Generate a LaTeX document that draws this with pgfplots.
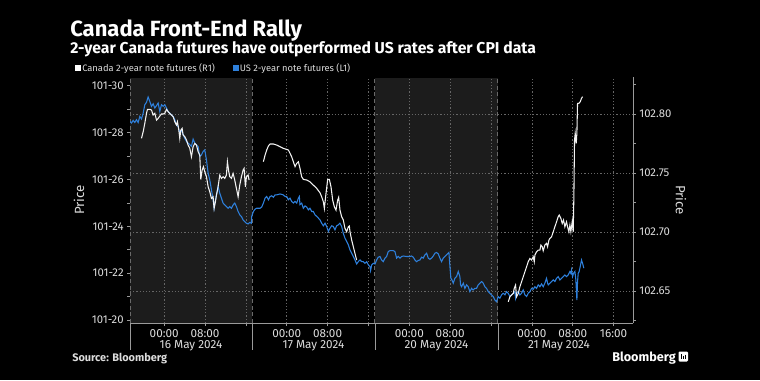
\documentclass[border=0pt]{standalone}
\usepackage{fontspec}
\setmainfont{Fira Sans}
\usepackage{pgfplots}
\pgfplotsset{compat=1.18}
\definecolor{usblue}{HTML}{2E80DC}
\definecolor{cawhite}{HTML}{F2F2F2}
\definecolor{shadec}{HTML}{1C1C1C}
\definecolor{gridc}{HTML}{666666}
\definecolor{tickc}{HTML}{DCDCDC}
\definecolor{axisc}{HTML}{9A9A9A}
\definecolor{sepc}{HTML}{6A6A6A}
\begin{document}
\begin{tikzpicture}
\useasboundingbox (0,0) rectangle (570pt,285pt);
\fill[black] (0,0) rectangle (570pt,285pt);
\pgfplotsset{base/.style={at={(97.5pt,42.75pt)}, anchor=south west, scale only axis,
  width=377.25pt, height=183.75pt, xmin=-6.7, xmax=91.8}}
% shading and session separators
\begin{axis}[base, hide axis, ymin=0, ymax=1]
\fill[shadec] (axis cs:-6.7,0) rectangle (axis cs:17.2,1);
\fill[shadec] (axis cs:41.25,0) rectangle (axis cs:65.3,1);
\draw[sepc, line width=0.6pt, dash pattern=on 3pt off 2pt] (axis cs:-6.6,0) -- (axis cs:-6.6,1);
\draw[sepc, line width=0.6pt, dash pattern=on 3pt off 2pt] (axis cs:17.2,0) -- (axis cs:17.2,1);
\draw[sepc, line width=0.6pt, dash pattern=on 3pt off 2pt] (axis cs:41.25,0) -- (axis cs:41.25,1);
\draw[sepc, line width=0.6pt, dash pattern=on 3pt off 2pt] (axis cs:65.3,0) -- (axis cs:65.3,1);
\end{axis}
% right scale: grids, ticks, x labels
\begin{axis}[base, ymin=102.623, ymax=102.8305,
  axis line style={draw=none},
  xtick={0,8,16,24,32,40,48,56,64,72,80,88},
  xticklabels={00:00,08:00,,00:00,08:00,,00:00,08:00,,00:00,08:00,16:00},
  xtick pos=bottom, ytick pos=right, yticklabel pos=right,
  ytick={102.65,102.70,102.75,102.80},
  minor ytick={102.625,102.675,102.725,102.775,102.825},
  scaled y ticks=false,
  xmajorgrids, ymajorgrids,
  major grid style={gridc, line width=0.55pt, dash pattern=on 0.9pt off 1.5pt},
  tick align=outside, major tick length=2.25pt, minor tick length=2.25pt,
  tick style={axisc, line width=0.5pt},
  yticklabel style={/pgf/number format/fixed, /pgf/number format/fixed zerofill,
    /pgf/number format/precision=2, /pgf/number format/assume math mode=true,
    font=\fontsize{8.5}{10}\selectfont, text=tickc, xshift=-1pt},
  xticklabel style={font=\fontsize{8.8}{10}\selectfont, text=tickc, yshift=1pt},
]
\end{axis}
% left scale: US 2-year (blue)
\begin{axis}[base, ymin=19.87, ymax=30.33,
  axis line style={draw=none}, xtick=\empty,
  ytick={20,22,24,26,28,30},
  yticklabels={101-20,101-22,101-24,101-26,101-28,101-30},
  minor ytick={21,23,25,27,29},
  ytick pos=left,
  tick align=outside, major tick length=2.25pt, minor tick length=2.25pt,
  tick style={axisc, line width=0.5pt},
  yticklabel style={font=\fontsize{8.5}{10}\selectfont, text=tickc, xshift=1pt},
]
\addplot[usblue, line width=0.8pt] coordinates {
(-6.73,28.48) (-6.41,28.41) (-6.08,28.52) (-5.76,28.43) (-5.43,28.55) (-5.10,28.43) (-4.78,28.69) (-4.45,28.58) (-4.12,28.83) (-3.80,29.19) (-3.47,29.29) (-3.15,29.52) (-2.82,29.33) (-2.49,29.12) (-2.17,29.23) (-1.84,29.05) (-1.51,29.15) (-1.19,29.26) (-0.86,28.90) (-0.54,29.19) (-0.21,29.12) (0.12,29.19) (0.44,29.05) (0.77,28.90) (1.09,28.83) (1.42,28.76) (1.75,28.69) (2.07,28.55) (2.40,28.33) (2.72,28.26) (3.05,27.98) (3.38,28.12) (3.70,27.91) (4.03,27.76) (4.36,27.62) (4.68,27.55) (5.01,27.48) (5.33,27.41) (5.66,27.72) (5.99,27.55) (6.31,27.48) (6.64,27.41) (6.96,26.98) (7.29,27.05) (7.62,27.19) (7.94,27.26) (8.27,26.84) (8.60,26.27) (8.92,25.98) (9.25,25.56) (9.57,25.13) (9.77,24.77) (10.03,25.13) (10.23,25.34) (10.55,25.70) (10.88,25.41) (11.20,25.20) (11.53,24.99) (11.86,24.91) (12.18,24.84) (12.51,24.77) (12.84,24.84) (13.16,24.77) (13.49,24.91) (13.81,24.99) (14.14,24.84) (14.47,24.63) (14.79,24.49) (15.12,24.42) (15.45,24.27) (15.77,24.20) (16.10,24.13) (16.42,24.10) (16.75,24.16) (17.08,24.13)
(17.14,24.42) (17.46,24.63) (17.79,24.73) (18.11,24.77) (18.77,24.77) (19.09,24.82) (19.42,24.99) (19.75,25.20) (20.07,25.27) (20.40,25.13) (20.72,25.27) (21.05,25.30) (21.38,25.24) (21.70,25.34) (22.03,25.34) (22.68,25.38) (23.33,25.34) (23.66,25.27) (23.99,25.27) (24.31,25.13) (24.64,25.20) (24.96,25.06) (25.29,24.99) (25.62,25.06) (25.94,24.99) (26.27,25.20) (26.46,25.27) (26.59,24.92) (26.92,24.99) (27.25,24.77) (27.57,24.87) (27.90,24.82) (28.23,24.70) (28.55,24.77) (28.88,24.63) (29.20,24.63) (29.53,24.49) (29.86,24.42) (30.18,24.35) (30.51,24.27) (30.83,24.13) (31.16,24.02) (31.49,24.13) (31.81,23.99) (32.14,23.78) (32.47,23.92) (32.79,24.02) (33.12,23.99) (33.44,23.85) (33.77,24.02) (34.10,24.06) (34.42,24.13) (34.75,23.99) (35.07,23.70) (35.40,23.49) (35.73,23.35) (36.05,23.21) (36.38,22.99) (36.71,22.85) (37.03,22.71) (37.36,22.56) (37.68,22.39) (38.01,22.49) (38.34,22.56) (38.66,22.49) (38.99,22.49) (39.31,22.42) (39.64,22.49) (39.97,22.35) (40.29,22.28) (40.42,22.11) (40.62,22.35) (40.95,22.42) (41.27,22.39) (41.60,22.56) (41.92,22.68) (42.25,22.71)
(42.57,22.56) (42.90,22.49) (43.23,22.64) (43.55,22.71) (43.88,22.92) (44.20,22.96) (44.86,22.96) (45.18,22.92) (45.51,22.64) (45.83,22.71) (46.16,22.64) (46.49,22.71) (46.81,22.73) (47.47,22.71) (48.12,22.71) (48.44,22.73) (48.77,22.68) (49.10,22.56) (49.42,22.49) (49.75,22.54) (50.07,22.56) (50.40,22.68) (50.73,22.64) (51.05,22.78) (51.38,22.85) (51.71,22.64) (52.03,22.59) (52.36,22.64) (52.68,22.73) (53.01,22.85) (53.34,22.88) (53.66,22.82) (53.99,22.64) (54.31,22.49) (54.64,22.64) (54.97,22.71) (55.29,22.78) (55.62,22.85) (55.75,22.88) (55.95,22.28) (56.14,21.78) (56.34,21.71) (56.60,21.57) (56.92,21.78) (57.25,21.85) (57.58,22.07) (57.90,21.85) (58.03,21.50) (58.23,21.42) (58.56,21.57) (58.88,21.35) (59.21,21.50) (59.53,21.42) (59.86,21.21) (60.19,21.35) (60.51,21.28) (60.84,21.35) (61.16,21.35) (61.49,21.50) (61.82,21.57) (62.14,21.64) (62.47,21.57) (62.79,21.42) (63.12,21.35) (63.45,21.21) (63.77,21.14) (64.10,21.07) (64.43,21.00) (64.75,20.85) (65.08,20.78) (65.40,21.00)
(65.74,20.93) (66.06,21.07) (66.39,21.14) (66.72,21.07) (67.04,21.21) (67.37,21.14) (67.70,21.00) (68.02,21.07) (68.35,21.14) (68.67,21.21) (68.80,20.93) (69.00,21.14) (69.33,21.21) (69.65,21.07) (69.98,21.14) (70.30,21.28) (70.63,21.07) (70.96,21.00) (71.28,21.14) (71.61,21.21) (71.94,21.35) (72.26,21.31) (72.59,21.42) (72.91,21.35) (73.24,21.50) (73.57,21.42) (73.89,21.54) (74.22,21.42) (74.54,21.57) (74.87,21.78) (75.07,21.57) (75.20,21.50) (75.52,21.57) (75.85,21.64) (76.18,21.71) (76.50,21.64) (76.83,21.78) (77.15,21.85) (77.48,21.71) (77.81,21.78) (78.13,21.85) (78.46,21.92) (78.78,21.85) (79.11,21.92) (79.44,22.07) (79.63,21.99) (79.76,22.14) (79.96,21.85) (80.15,21.99) (80.42,22.07) (80.61,21.71) (80.81,20.85) (80.94,21.64) (81.07,21.99) (81.26,22.07) (81.46,22.28) (81.72,22.56) (81.92,22.42) (82.18,22.21)
};
\end{axis}
% right scale: Canada 2-year (white)
\begin{axis}[base, hide axis, ymin=102.623, ymax=102.8305]
\addplot[cawhite, line width=0.8pt] coordinates {
(-4.45,102.7794) (-4.12,102.7850) (-3.80,102.7921) (-3.47,102.8006) (-3.28,102.8039) (-2.82,102.8039) (-2.49,102.8034) (-2.17,102.7991) (-1.84,102.8006) (-1.51,102.7949) (-1.19,102.7963) (-0.86,102.7983) (-0.54,102.8000) (-0.21,102.8000) (0.12,102.8006) (0.44,102.8039) (0.77,102.8020) (1.09,102.8006) (1.42,102.7991) (1.75,102.7977) (2.07,102.7935) (2.40,102.7907) (2.59,102.7935) (2.86,102.7864) (3.05,102.7794) (3.25,102.7864) (3.51,102.7878) (3.70,102.7822) (4.03,102.7808) (4.36,102.7780) (4.68,102.7737) (5.01,102.7709) (5.33,102.7638) (5.66,102.7723) (5.99,102.7751) (6.31,102.7737) (6.64,102.7681) (6.96,102.7652) (7.16,102.7446) (7.42,102.7525) (7.68,102.7554) (7.94,102.7511) (8.27,102.7469) (8.60,102.7384) (8.92,102.7342) (9.25,102.7285) (9.57,102.7299) (9.77,102.7200) (10.03,102.7257) (10.23,102.7313) (10.55,102.7384) (10.88,102.7483) (11.20,102.7455) (11.53,102.7469) (11.86,102.7455) (12.18,102.7483) (12.38,102.7596) (12.64,102.7511) (12.84,102.7469) (13.16,102.7455) (13.49,102.7497) (13.81,102.7441) (14.14,102.7370) (14.47,102.7299) (14.79,102.7398) (15.12,102.7469) (15.45,102.7525) (15.64,102.7539) (15.90,102.7384) (16.10,102.7469) (16.42,102.7483) (16.62,102.7441)
};
\addplot[cawhite, line width=0.8pt] coordinates {
(19.42,102.7596) (19.75,102.7652) (20.07,102.7695) (20.40,102.7729) (20.72,102.7746) (21.38,102.7746) (22.03,102.7737) (22.68,102.7723) (23.33,102.7709) (23.99,102.7700) (24.31,102.7695) (24.64,102.7667) (24.96,102.7638) (25.29,102.7596) (25.62,102.7554) (25.94,102.7582) (26.27,102.7596) (26.59,102.7539) (26.92,102.7469) (27.25,102.7446) (27.90,102.7441) (28.55,102.7426) (29.20,102.7398) (29.86,102.7370) (30.51,102.7333) (30.83,102.7299) (31.16,102.7257) (31.36,102.7200) (31.68,102.7328) (32.01,102.7446) (32.34,102.7446) (32.66,102.7384) (32.99,102.7271) (33.31,102.7215) (33.64,102.7186) (33.97,102.7271) (34.16,102.7294) (34.42,102.7186) (34.75,102.7130) (35.07,102.7102) (35.40,102.7031) (35.73,102.7003) (36.05,102.7045) (36.25,102.7051) (36.38,102.7003) (36.71,102.6932) (37.03,102.6876) (37.36,102.6819) (37.68,102.6763)
};
\addplot[cawhite, line width=0.8pt] coordinates {
(67.37,102.6410) (67.70,102.6452) (68.02,102.6466) (68.35,102.6480) (68.54,102.6523) (68.80,102.6551) (69.00,102.6452) (69.33,102.6480) (69.65,102.6537) (69.98,102.6579) (70.30,102.6621) (70.63,102.6664) (70.96,102.6706) (71.28,102.6749) (71.61,102.6777) (71.94,102.6763) (72.26,102.6791) (72.46,102.6749) (72.59,102.6805) (72.91,102.6833) (73.24,102.6847) (73.57,102.6847) (73.76,102.6890) (74.02,102.6876) (74.22,102.6842) (74.54,102.6890) (74.87,102.6904) (75.07,102.6876) (75.33,102.6932) (75.52,102.6946) (75.85,102.6960) (76.18,102.7003) (76.50,102.7045) (76.83,102.7087) (77.15,102.7130) (77.35,102.7144) (77.68,102.7116) (77.94,102.7073) (78.20,102.7102) (78.46,102.7045) (78.78,102.7087) (78.98,102.7045) (79.24,102.7003) (79.44,102.7059) (79.63,102.7003) (79.89,102.7087) (80.09,102.7003) (80.22,102.7299) (80.35,102.7780) (80.48,102.7836) (80.68,102.7751) (80.81,102.7836) (80.94,102.8090) (81.20,102.8090) (81.46,102.8104) (81.72,102.8133) (81.92,102.8147)
};
\end{axis}
% annotations in pixel coordinates
\begin{scope}[x=0.75pt, y=-0.75pt, yshift=285pt]
\draw[axisc, line width=0.7pt] (130,323) -- (633.3,323);
\draw[axisc, line width=0.7pt] (633,77) -- (633,323);
\foreach \xx in {130,252,375,498} \draw[axisc, line width=0.6pt] (\xx,323) -- (\xx,350);
\foreach \xx/\dd in {191/16 May 2024, 313.5/17 May 2024, 436.5/20 May 2024, 559/21 May 2024}
  \node[anchor=base, text=tickc, font=\fontsize{8.8}{10}\selectfont, inner sep=0pt] at (\xx,348) {\dd};
\node[anchor=base west, text=white, font=\fontsize{16.5}{18}\selectfont\bfseries, inner sep=0pt] at (70,36.5) {Canada Front-End Rally};
\node[anchor=base west, text=white, font=\fontsize{11.8}{13}\selectfont\bfseries, inner sep=0pt] at (70,53) {2-year Canada futures have outperformed US rates after CPI data};
\fill[white] (75,65) rectangle (80.5,71);
\node[anchor=base west, text=tickc, font=\fontsize{7}{8}\selectfont, inner sep=0pt] at (82,71.5) {Canada 2-year note futures (R1)};
\fill[usblue] (233,65) rectangle (238.5,71);
\node[anchor=base west, text=tickc, font=\fontsize{7}{8}\selectfont, inner sep=0pt] at (239.5,71.5) {US 2-year note futures (L1)};
\node[rotate=90, text=tickc, font=\fontsize{10}{12}\selectfont, inner sep=0pt] at (79,200) {Price};
\node[rotate=-90, text=tickc, font=\fontsize{10}{12}\selectfont, inner sep=0pt] at (681,200) {Price};
\node[anchor=base west, text=tickc, font=\fontsize{8.2}{9}\selectfont\bfseries, inner sep=0pt] at (72,361.5) {Source: Bloomberg};
\node[anchor=base east, text=white, font=\fontsize{9.5}{11}\selectfont\bfseries, inner sep=0pt] at (676,361.5) {Bloomberg};
\fill[white, rounded corners=0.8pt] (678.5,351.5) rectangle (688,361.5);
\draw[black, line width=0.6pt] (681,354) -- (681,359) (683.2,355.5) -- (683.2,359) (685.4,354.5) -- (685.4,359);
\end{scope}
\end{tikzpicture}
\end{document}
